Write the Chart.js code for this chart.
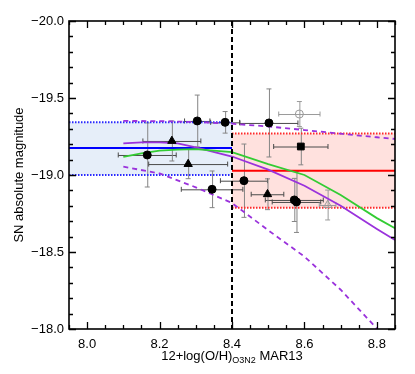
<!DOCTYPE html>
<html><head><meta charset="utf-8">
<script src="https://cdn.jsdelivr.net/npm/chart.js@4/dist/chart.umd.min.js"></script>
<style>html,body{margin:0;padding:0;background:#fff;overflow:hidden}</style>
</head><body>
<canvas id="c" width="415" height="374"></canvas>
<script>
// ---- axis ticks & titles ----
const xTicks=[8.0,8.2,8.4,8.6,8.8];
const yTicks=[-20.0,-19.5,-19.0,-18.5,-18.0];
const xTitleMain='12+log(O/H)', xTitleSub='O3N2', xTitleTail=' MAR13';
const yTitle='SN absolute magnitude';
const splitX=[8.4];

// ---- data points ----
const circX=[8.166,8.304,8.381,8.345,8.433,8.502,8.572,8.578];
const circY=[-19.130,-19.351,-19.342,-18.907,-18.963,-19.338,-18.838,-18.825];
const circXerr=[0.080,0.035,0.040,0.085,0.065,0.080,0.080,0.067];
const circYerr=[0.208,0.168,0.070,0.119,0.238,0.221,0.140,0.198];

const triX=[8.234,8.279,8.498];
const triY=[-19.221,-19.071,-18.875];
const triXerr=[0.080,0.109,0.045];
const triYerr=[0.130,0.095,0.100];

const sqX=[8.590], sqY=[-19.185], sqXerr=[0.075], sqYerr=[0.119];
const openCircX=[8.586], openCircY=[-19.396], openCircXerr=[0.057], openCircYerr=[0.081];
const openTriX=[8.664], openTriY=[-18.805], openTriXerr=[0.023], openTriYerr=[0.097];

// ---- fit curves ----
const greenX=[8.10,8.15,8.20,8.25,8.30,8.40,8.50,8.60,8.70,8.80,8.85];
const greenY=[-19.118,-19.140,-19.158,-19.165,-19.168,-19.148,-19.070,-19.000,-18.870,-18.720,-18.654];
const purpleX=[8.10,8.15,8.20,8.25,8.30,8.40,8.50,8.60,8.70,8.80,8.85];
const purpleY=[-19.206,-19.212,-19.212,-19.205,-19.180,-19.120,-19.035,-18.930,-18.800,-18.650,-18.578];
const purpleHiX=[8.10,8.20,8.30,8.40,8.50,8.60,8.70,8.80,8.85];
const purpleHiY=[-19.351,-19.350,-19.344,-19.333,-19.315,-19.292,-19.268,-19.245,-19.234];
const purpleLoX=[8.10,8.20,8.30,8.40,8.50,8.60,8.70,8.80];
const purpleLoY=[-19.054,-19.010,-18.920,-18.818,-18.641,-18.470,-18.255,-18.003];

// ---- mean values and bands ----
const blueX=[7.95,8.40], blueMean=-19.175, blueHi=-19.342, blueLo=-19.000;
const redX=[8.40,8.85], redMean=-19.028, redHi=-19.270, redLo=-18.788;

const FONT='"Liberation Sans", Arial, Helvetica, sans-serif';
function pts(xs,ys){return xs.map((x,i)=>({x:x,y:ys[i]}));}
function hline(xs,v){return xs.map(x=>({x:x,y:v}));}

const lineBase={showLine:true,pointRadius:0,pointHoverRadius:0,fill:false,order:2,tension:0};
const datasets=[
 {label:'circ',data:pts(circX,circY),pointStyle:'circle',pointRadius:4,backgroundColor:'#000',borderColor:'#000',borderWidth:1,order:1,
  xerr:circXerr,yerr:circYerr,errCx:'#4a4a4a',errCy:'#858585'},
 {label:'tri',data:pts(triX,triY),pointStyle:'triangle',pointRadius:4.8,backgroundColor:'#000',borderColor:'#000',borderWidth:1,order:1,
  xerr:triXerr,yerr:triYerr,errCx:'#4a4a4a',errCy:'#858585'},
 {label:'sq',data:pts(sqX,sqY),pointStyle:'rect',pointRadius:4.8,backgroundColor:'#000',borderColor:'#000',borderWidth:1,order:1,
  xerr:sqXerr,yerr:sqYerr,errCx:'#4a4a4a',errCy:'#858585'},
 {label:'ocirc',data:pts(openCircX,openCircY),pointStyle:'circle',pointRadius:4,backgroundColor:'rgba(0,0,0,0)',borderColor:'#9a9a9a',borderWidth:1,order:1,
  xerr:openCircXerr,yerr:openCircYerr,errCx:'#9a9a9a',errCy:'#9a9a9a'},
 {label:'otri',data:pts(openTriX,openTriY),pointStyle:'triangle',pointRadius:4.8,backgroundColor:'rgba(0,0,0,0)',borderColor:'#9a9a9a',borderWidth:1,order:1,
  xerr:openTriXerr,yerr:openTriYerr,errCx:'#9a9a9a',errCy:'#9a9a9a'},
 Object.assign({},lineBase,{label:'split',data:[{x:splitX[0],y:-20},{x:splitX[0],y:-18}],borderColor:'#000',borderWidth:2,borderDash:[5,3]}),
 Object.assign({},lineBase,{label:'green',data:pts(greenX,greenY),borderColor:'#33cc33',borderWidth:1.8}),
 Object.assign({},lineBase,{label:'purple',data:pts(purpleX,purpleY),borderColor:'#9a32dc',borderWidth:1.8}),
 Object.assign({},lineBase,{label:'purpleHi',data:pts(purpleHiX,purpleHiY),borderColor:'#9a32dc',borderWidth:1.8,borderDash:[5,4]}),
 Object.assign({},lineBase,{label:'purpleLo',data:pts(purpleLoX,purpleLoY),borderColor:'#9a32dc',borderWidth:1.8,borderDash:[5,4]}),
 Object.assign({},lineBase,{label:'blueMean',data:hline(blueX,blueMean),borderColor:'#0000ff',borderWidth:2}),
 Object.assign({},lineBase,{label:'redMean',data:hline(redX,redMean),borderColor:'#ff0000',borderWidth:2}),
 Object.assign({},lineBase,{label:'blueHi',data:hline(blueX,blueHi),borderColor:'#2a2aff',borderWidth:2,borderDash:[1.5,1.5],order:3}),
 Object.assign({},lineBase,{label:'blueLo',data:hline(blueX,blueLo),borderColor:'#2a2aff',borderWidth:2,borderDash:[1.5,1.5],order:3,
   fill:'-1',backgroundColor:'#e6eef9'}),
 Object.assign({},lineBase,{label:'redHi',data:hline(redX,redHi),borderColor:'#ff2a2a',borderWidth:2,borderDash:[1.5,1.5],order:3}),
 Object.assign({},lineBase,{label:'redLo',data:hline(redX,redLo),borderColor:'#ff2a2a',borderWidth:2,borderDash:[1.5,1.5],order:3,
   fill:'-1',backgroundColor:'#ffe1de'})
];

const errorBars={id:'errorBars',beforeDatasetsDraw(chart){
  const {ctx,scales:{x,y}}=chart;
  ctx.save(); ctx.lineWidth=1;
  chart.data.datasets.forEach(ds=>{
    if(!ds.xerr) return;
    ds.data.forEach((p,i)=>{
      const px=x.getPixelForValue(p.x), py=y.getPixelForValue(p.y);
      const cap=2.5;
      if(ds.xerr[i]>0){
        const x0=x.getPixelForValue(p.x-ds.xerr[i]), x1=x.getPixelForValue(p.x+ds.xerr[i]);
        ctx.strokeStyle=ds.errCx; ctx.beginPath();
        ctx.moveTo(x0,py+0.5);ctx.lineTo(x1,py+0.5);
        ctx.moveTo(x0,py-cap);ctx.lineTo(x0,py+cap);
        ctx.moveTo(x1,py-cap);ctx.lineTo(x1,py+cap);
        ctx.stroke();
      }
      if(ds.yerr[i]>0){
        const y0=y.getPixelForValue(p.y-ds.yerr[i]), y1=y.getPixelForValue(p.y+ds.yerr[i]);
        ctx.strokeStyle=ds.errCy; ctx.beginPath();
        ctx.moveTo(px+0.5,y0);ctx.lineTo(px+0.5,y1);
        ctx.moveTo(px-cap,y0);ctx.lineTo(px+cap,y0);
        ctx.moveTo(px-cap,y1);ctx.lineTo(px+cap,y1);
        ctx.stroke();
      }
    });
  });
  ctx.restore();
}};

const frame={id:'frame',afterDatasetsDraw(chart){
  const {ctx,chartArea:a,scales:{x,y}}=chart;
  ctx.save();
  ctx.strokeStyle='#000'; ctx.lineWidth=1.6;
  ctx.strokeRect(a.left,a.top,a.right-a.left,a.bottom-a.top);
  ctx.lineWidth=1.3;
  ctx.beginPath();
  for(let i=0;i<=18;i++){
    const v=7.95+i*0.05;
    const major=xTicks.some(t=>Math.abs(t-v)<1e-6);
    const L=major?7:4, px=Math.round(x.getPixelForValue(v))+0.5;
    ctx.moveTo(px,a.bottom);ctx.lineTo(px,a.bottom-L);
    ctx.moveTo(px,a.top);ctx.lineTo(px,a.top+L);
  }
  for(let i=0;i<=20;i++){
    const v=-20+i*0.1;
    const major=yTicks.some(t=>Math.abs(t-v)<1e-6);
    const L=major?7:4, py=Math.round(y.getPixelForValue(v))+0.5;
    ctx.moveTo(a.left,py);ctx.lineTo(a.left+L,py);
    ctx.moveTo(a.right,py);ctx.lineTo(a.right-L,py);
  }
  ctx.stroke();
  ctx.restore();
}};

const titles={id:'titles',afterDraw(chart){
  const {ctx,chartArea:a}=chart;
  ctx.save(); ctx.fillStyle='#000'; ctx.textBaseline='alphabetic';
  ctx.font='13px '+FONT;
  ctx.save(); ctx.translate(23,(a.top+a.bottom)/2); ctx.rotate(-Math.PI/2);
  ctx.textAlign='center'; ctx.fillText(yTitle,0,0); ctx.restore();
  const big='13px '+FONT, small='9px '+FONT;
  ctx.font=big; const w1=ctx.measureText(xTitleMain).width, w3=ctx.measureText(xTitleTail).width;
  ctx.font=small; const w2=ctx.measureText(xTitleSub).width;
  const total=w1+w2+w3; let sx=(a.left+a.right)/2-total/2; const base=359.5;
  ctx.textAlign='left';
  ctx.font=big; ctx.fillText(xTitleMain,sx,base); sx+=w1;
  ctx.font=small; ctx.fillText(xTitleSub,sx,base+3); sx+=w2;
  ctx.font=big; ctx.fillText(xTitleTail,sx,base);
  ctx.restore();
}};

new Chart(document.getElementById('c'),{
  type:'scatter',
  data:{datasets:datasets},
  options:{
    responsive:false, animation:false, devicePixelRatio:1,
    layout:{padding:{left:0,right:20,top:21,bottom:0}},
    plugins:{legend:{display:false},tooltip:{enabled:false},filler:{drawTime:'beforeDraw'}},
    scales:{
      x:{type:'linear',min:7.95,max:8.85,
        afterBuildTicks:s=>{s.ticks=xTicks.map(v=>({value:v}));},
        afterFit:s=>{s.height=45;},
        grid:{display:false,drawTicks:false},border:{display:false},
        ticks:{padding:8,color:'#000',autoSkip:false,maxRotation:0,font:{family:FONT,size:13},
          callback:v=>Number(v).toFixed(1)}},
      y:{type:'linear',min:-20,max:-18,reverse:true,
        afterBuildTicks:s=>{s.ticks=yTicks.map(v=>({value:v}));},
        afterFit:s=>{s.width=69;},
        grid:{display:false,drawTicks:false},border:{display:false},
        ticks:{padding:5,color:'#000',autoSkip:false,font:{family:FONT,size:13},
          callback:v=>(v<0?'\u2212':'')+Math.abs(v).toFixed(1)}}
    }
  },
  plugins:[errorBars,frame,titles]
});
</script>
</body></html>
